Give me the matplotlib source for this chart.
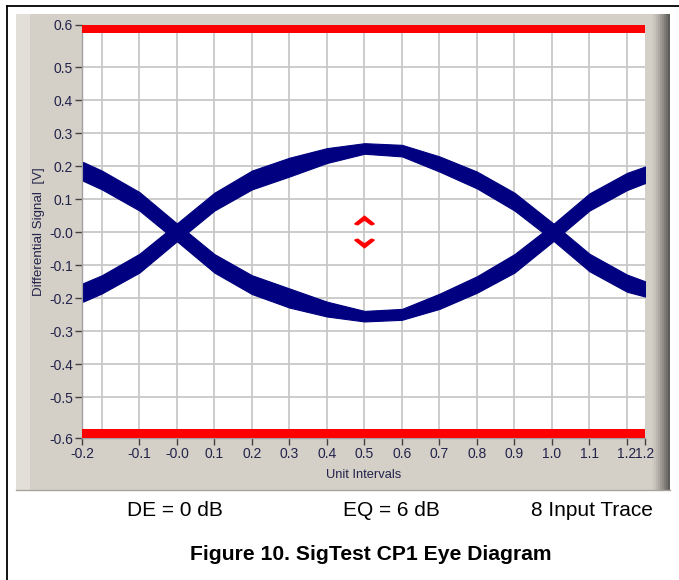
import numpy as np
import matplotlib
matplotlib.use('Agg')
import matplotlib.pyplot as plt
from matplotlib.patches import Rectangle
from matplotlib.path import Path

# eye diagram (unit intervals, volts)
ui = [-0.25, -0.2, -0.1, 0.0, 0.1, 0.2, 0.3, 0.4, 0.5, 0.6, 0.7, 0.8, 0.9, 1.0, 1.1, 1.2, 1.25]
# band that forms the top of the eye
upper_top = [-0.154, -0.13, -0.065, 0.027, 0.12, 0.187, 0.226, 0.255, 0.27, 0.265, 0.23, 0.184, 0.12, 0.03, -0.065, -0.128, -0.149]
upper_bot = [-0.21, -0.185, -0.122, -0.027, 0.066, 0.13, 0.169, 0.21, 0.238, 0.23, 0.184, 0.133, 0.066, -0.022, -0.118, -0.18, -0.195]
# band that forms the bottom of the eye
lower_top = [0.213, 0.187, 0.122, 0.027, -0.066, -0.13, -0.17, -0.21, -0.238, -0.232, -0.186, -0.133, -0.066, 0.022, 0.118, 0.18, 0.2]
lower_bot = [0.156, 0.13, 0.066, -0.027, -0.122, -0.187, -0.228, -0.255, -0.27, -0.265, -0.232, -0.183, -0.122, -0.03, 0.066, 0.128, 0.15]

# mask limits (red bars) and eye height markers
mask_hi = 0.603
mask_lo = -0.597
marker_x = 0.5
marker_up = 0.036
marker_dn = -0.032

xmin, xmax = -0.253, 1.248
ymin, ymax = -0.623, 0.628
xticks = [xmin, -0.1, 0.0, 0.1, 0.2, 0.3, 0.4, 0.5, 0.6, 0.7, 0.8, 0.9, 1.0, 1.1, 1.2, xmax]
xlabels = ['-0.2', '-0.1', '-0.0', '0.1', '0.2', '0.3', '0.4', '0.5', '0.6', '0.7', '0.8', '0.9', '1.0', '1.1', '1.2', '1.2']
yticks = [ymin, -0.5, -0.4, -0.3, -0.2, -0.1, 0.0, 0.1, 0.2, 0.3, 0.4, 0.5, ymax]
ylabels = ['-0.6', '-0.5', '-0.4', '-0.3', '-0.2', '-0.1', '-0.0', '0.1', '0.2', '0.3', '0.4', '0.5', '0.6']
xgrid = [-0.2, -0.1, 0.0, 0.1, 0.2, 0.3, 0.4, 0.5, 0.6, 0.7, 0.8, 0.9, 1.0, 1.1, 1.2]
ygrid = [-0.5, -0.4, -0.3, -0.2, -0.1, 0.0, 0.1, 0.2, 0.3, 0.4, 0.5]

W, H = 679, 580
fig = plt.figure(figsize=(W/100, H/100), dpi=100)
fig.patch.set_facecolor('white')

def fx(px): return px/W
def fy(py): return 1 - py/H

# page frame lines
fig.add_artist(plt.Line2D([fx(7), fx(7)], [0, fy(6)], color='black', lw=1.3, zorder=-1))
fig.add_artist(plt.Line2D([fx(7), 1], [fy(6), fy(6)], color='black', lw=1.3, zorder=-1))

# gray LabVIEW style panel
fig.add_artist(Rectangle((fx(16), fy(491)), fx(670)-fx(16), fy(14)-fy(491),
                         transform=fig.transFigure, facecolor='#d4d0c8', edgecolor='none', zorder=-2))
fig.add_artist(Rectangle((fx(16), fy(491)), fx(30)-fx(16), fy(14)-fy(491),
                         transform=fig.transFigure, facecolor='#e2dfd8', edgecolor='none', zorder=-2))
shades = ['#cfcbc3', '#c6c2ba', '#bbb7af', '#aeaaa3', '#a09c95', '#908d87', '#807d78', '#6f6d69', '#5f5d5a']
for i, c in enumerate(shades):
    x0 = 652 + i*2
    fig.add_artist(Rectangle((fx(x0), fy(491)), fx(2), fy(14)-fy(491),
                             transform=fig.transFigure, facecolor=c, edgecolor='none', zorder=-2))
fig.add_artist(plt.Line2D([fx(16), fx(670)], [fy(490), fy(490)], color='#a8a49c', lw=1, zorder=-1))

ax = fig.add_axes([fx(82), fy(438), fx(645)-fx(82), fy(25)-fy(438)])
ax.set_zorder(5)
ax.set_facecolor('white')
ax.set_xlim(xmin, xmax)
ax.set_ylim(ymin, ymax)

for g in xgrid:
    ax.axvline(g, color='#c8c8c8', lw=1.3, zorder=1)
for g in ygrid:
    ax.axhline(g, color='#c8c8c8', lw=1.3, zorder=1)

navy = '#000080'
ax.fill_between(ui, upper_bot, upper_top, color=navy, lw=0.8, edgecolor=navy, zorder=3)
ax.fill_between(ui, lower_bot, lower_top, color=navy, lw=0.8, edgecolor=navy, zorder=3)

ax.axhspan(mask_hi, ymax, color='#ff0000', lw=0, zorder=4)
ax.axhspan(ymin, mask_lo, color='#ff0000', lw=0, zorder=4)

chev_up = Path([(-1, -0.35), (0, 0.45), (1, -0.35), (0.7, -0.45), (0, 0.05), (-0.7, -0.45), (-1, -0.35)],
               [Path.MOVETO] + [Path.LINETO]*5 + [Path.CLOSEPOLY])
chev_dn = Path([(-1, 0.35), (0, -0.45), (1, 0.35), (0.7, 0.45), (0, -0.05), (-0.7, 0.45), (-1, 0.35)],
               [Path.MOVETO] + [Path.LINETO]*5 + [Path.CLOSEPOLY])
ax.plot([marker_x], [marker_up], marker=chev_up, ms=14, color='#ff0000', ls='none', zorder=5)
ax.plot([marker_x], [marker_dn], marker=chev_dn, ms=14, color='#ff0000', ls='none', zorder=5)

tick_font = ['Liberation Sans Narrow', 'Liberation Sans', 'DejaVu Sans']
ax.set_xticks(xticks)
ax.set_xticklabels(xlabels, fontsize=10, family=tick_font, color='#23234a')
ax.set_yticks(yticks)
ax.set_yticklabels(ylabels, fontsize=10, family=tick_font, color='#23234a')
ax.tick_params(axis='both', direction='out', length=5, width=1, color='#404040', pad=1.5)
for s in ['top', 'right']:
    ax.spines[s].set_visible(False)
for s in ['left', 'bottom']:
    ax.spines[s].set_color('#a0a0a0')
    ax.spines[s].set_linewidth(1)

ax.set_xlabel('Unit Intervals', fontsize=9.3, family=tick_font, color='#23234a', labelpad=6)
ax.set_ylabel('Differential Signal  [V]', fontsize=9.6, family=tick_font, color='#23234a', labelpad=3)

fig.text(fx(175), fy(510), 'DE = 0 dB', fontsize=15, family='Liberation Sans', ha='center', va='center')
fig.text(fx(391), fy(510), 'EQ = 6 dB', fontsize=15, family='Liberation Sans', ha='center', va='center')
fig.text(fx(592), fy(510), '8 Input Trace', fontsize=15, family='Liberation Sans', ha='center', va='center')
fig.text(fx(371), fy(555), 'Figure 10. SigTest CP1 Eye Diagram', fontsize=15.2, family='Liberation Sans',
         fontweight='bold', ha='center', va='center')

fig.savefig('out.png', dpi=100)
